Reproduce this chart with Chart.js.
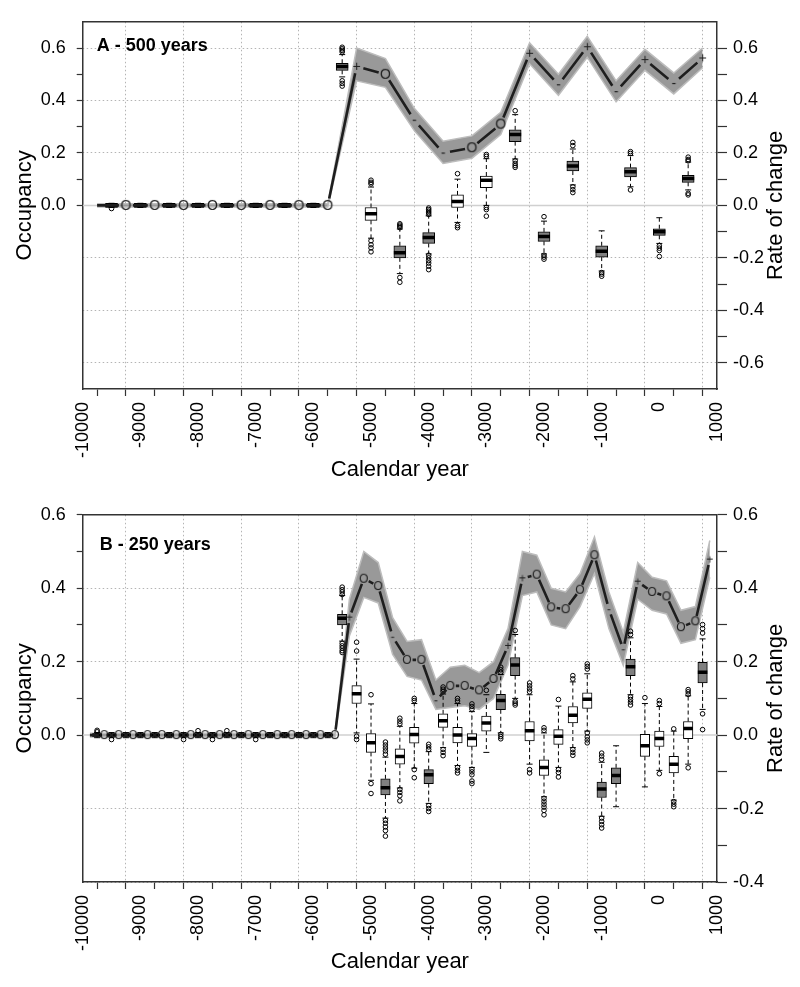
<!DOCTYPE html>
<html><head><meta charset="utf-8">
<script src="https://cdn.jsdelivr.net/npm/chart.js@4/dist/chart.umd.min.js"></script>
<style>
html,body{margin:0;padding:0;background:#fff;}
#wrap{width:800px;height:987px;position:relative;}
canvas{position:absolute;left:0;}
</style></head><body>
<div id="wrap">
<canvas id="cA" width="800" height="493" style="top:0"></canvas>
<canvas id="cB" width="800" height="494" style="top:493px"></canvas>
</div>
<script>
// ---------------- Panel A (500-year bins) ----------------
const occYearsA = [-9750,-9250,-8750,-8250,-7750,-7250,-6750,-6250,-5750,-5250,-4750,-4250,-3750,-3250,-2750,-2250,-1750,-1250,-750,-250,250,750];
const occMedA = [0,0,0,0,0,0,0,0,0,0.53,0.50,0.325,0.20,0.22,0.31,0.58,0.46,0.605,0.434,0.556,0.465,0.562];
const occHiA  = [0.006,0.006,0.006,0.006,0.006,0.006,0.006,0.006,0.006,0.60,0.56,0.37,0.245,0.265,0.355,0.62,0.50,0.645,0.475,0.595,0.505,0.60];
const occLoA  = [-0.006,-0.006,-0.006,-0.006,-0.006,-0.006,-0.006,-0.006,-0.006,0.475,0.45,0.285,0.16,0.18,0.27,0.54,0.42,0.565,0.395,0.515,0.425,0.525];
const symA = ["","O","O","O","O","O","O","O","O","+","O","-","-","O","O","+","-","+","-","+","-","+"];

const boxYearsA = [-9500,-9000,-8500,-8000,-7500,-7000,-6500,-6000,-5500,-5000,-4500,-4000,-3500,-3000,-2500,-2000,-1500,-1000,-500,0,500];
const q1A  = [-0.008,-0.008,-0.008,-0.008,-0.008,-0.008,-0.008,-0.008,0.515,-0.057,-0.2,-0.145,-0.008,0.068,0.243,-0.137,0.131,-0.197,0.109,-0.114,0.088];
const medA = [0,0,0,0,0,0,0,0,0.53,-0.032,-0.181,-0.122,0.015,0.096,0.27,-0.119,0.15,-0.175,0.128,-0.1,0.103];
const q3A  = [0.008,0.008,0.008,0.008,0.008,0.008,0.008,0.008,0.542,-0.008,-0.154,-0.104,0.04,0.112,0.288,-0.101,0.169,-0.154,0.144,-0.089,0.115];
const wLoA = [-0.008,-0.008,-0.008,-0.008,-0.008,-0.008,-0.008,-0.008,0.49,-0.125,-0.26,-0.185,-0.065,0.0,0.177,-0.185,0.078,-0.25,0.071,-0.145,0.059];
const wHiA = [0.008,0.008,0.008,0.008,0.008,0.008,0.008,0.008,0.575,0.07,-0.09,-0.04,0.10,0.178,0.346,-0.06,0.215,-0.097,0.19,-0.047,0.165];
const fillA = [1,1,1,1,1,1,1,1,1,0,1,1,0,0,1,1,1,1,1,1,1];
const outA = [[-0.012],[],[],[],[],[],[],[],
  [0.603,0.597,0.591,0.585,0.475,0.465,0.455],
  [0.096,0.088,0.082,-0.135,-0.15,-0.162,-0.177],
  [-0.07,-0.075,-0.08,-0.085,-0.275,-0.293],
  [-0.01,-0.016,-0.022,-0.028,-0.034,-0.19,-0.2,-0.21,-0.22,-0.232,-0.245],
  [0.121,-0.077,-0.085],
  [0.194,0.187,-0.008,-0.016,-0.041],
  [0.361,0.17,0.16,0.152,0.145],
  [-0.043,-0.19,-0.197,-0.205],
  [0.24,0.228,0.071,0.06,0.049],
  [-0.256,-0.262,-0.27],
  [0.205,0.198,0.059],
  [-0.154,-0.163,-0.172,-0.195],
  [0.184,0.175,0.17,0.046,0.04]];

// ---------------- Panel B (250-year bins) ----------------
const occYearsB = [-9875,-9625,-9375,-9125,-8875,-8625,-8375,-8125,-7875,-7625,-7375,-7125,-6875,-6625,-6375,-6125,-5875,-5625,-5375,-5125,-4875,-4625,-4375,-4125,-3875,-3625,-3375,-3125,-2875,-2625,-2375,-2125,-1875,-1625,-1375,-1125,-875,-625,-375,-125,125,375,625,875];
const occMedB = [0,0,0,0,0,0,0,0,0,0,0,0,0,0,0,0,0,0,0.32,0.426,0.406,0.268,0.205,0.205,0.095,0.134,0.134,0.122,0.153,0.243,0.427,0.437,0.348,0.343,0.396,0.49,0.343,0.234,0.418,0.39,0.378,0.294,0.31,0.478];
const occHiB  = [0.005,0.005,0.005,0.005,0.005,0.005,0.005,0.005,0.005,0.005,0.005,0.005,0.005,0.005,0.005,0.005,0.005,0.005,0.37,0.50,0.47,0.32,0.255,0.26,0.15,0.185,0.19,0.17,0.20,0.29,0.50,0.49,0.40,0.39,0.44,0.54,0.39,0.28,0.47,0.43,0.42,0.34,0.35,0.53];
const occLoB  = [-0.005,-0.005,-0.005,-0.005,-0.005,-0.005,-0.005,-0.005,-0.005,-0.005,-0.005,-0.005,-0.005,-0.005,-0.005,-0.005,-0.005,-0.005,0.27,0.375,0.36,0.22,0.16,0.15,0.07,0.075,0.08,0.07,0.10,0.19,0.38,0.39,0.30,0.29,0.35,0.44,0.29,0.19,0.37,0.34,0.33,0.25,0.26,0.43];
const symB = ["","O","O","O","O","O","O","O","O","O","O","O","O","O","O","O","O","O","+","O","O","-","O","O","-","O","O","O","O","+","+","O","O","O","O","O","-","-","+","O","O","O","O","+"];

const boxYearsB = [-9750,-9500,-9250,-9000,-8750,-8500,-8250,-8000,-7750,-7500,-7250,-7000,-6750,-6500,-6250,-6000,-5750,-5500,-5250,-5000,-4750,-4500,-4250,-4000,-3750,-3500,-3250,-3000,-2750,-2500,-2250,-2000,-1750,-1500,-1250,-1000,-750,-500,-250,0,250,500,750];
const q1B  = [-0.003,-0.003,-0.003,-0.003,-0.003,-0.003,-0.003,-0.003,-0.003,-0.003,-0.003,-0.003,-0.003,-0.003,-0.003,-0.003,-0.003,0.30,0.086,-0.047,-0.163,-0.079,-0.022,-0.132,0.021,-0.021,-0.031,0.011,0.069,0.162,-0.016,-0.11,-0.025,0.033,0.073,-0.17,-0.132,0.162,-0.058,-0.031,-0.103,-0.01,0.142];
const medB = [0,0,0,0,0,0,0,0,0,0,0,0,0,0,0,0,0,0.318,0.113,-0.021,-0.143,-0.058,0.002,-0.108,0.039,0.0,-0.009,0.033,0.094,0.191,0.012,-0.088,-0.003,0.054,0.098,-0.147,-0.11,0.186,-0.029,-0.009,-0.079,0.018,0.171];
const q3B  = [0.003,0.003,0.003,0.003,0.003,0.003,0.003,0.003,0.003,0.003,0.003,0.003,0.003,0.003,0.003,0.003,0.003,0.329,0.135,0.004,-0.119,-0.037,0.021,-0.094,0.058,0.021,0.004,0.052,0.111,0.211,0.037,-0.067,0.015,0.078,0.115,-0.128,-0.089,0.207,0.002,0.011,-0.058,0.037,0.198];
const wLoB = [-0.007,-0.007,-0.007,-0.007,-0.007,-0.007,-0.007,-0.007,-0.007,-0.007,-0.007,-0.007,-0.007,-0.007,-0.007,-0.007,-0.007,0.256,0.006,-0.123,-0.226,-0.144,-0.09,-0.186,-0.034,-0.083,-0.088,-0.047,0.006,0.1,-0.079,-0.168,-0.088,-0.034,0.011,-0.221,-0.195,0.11,-0.141,-0.096,-0.177,-0.079,0.07];
const wHiB = [0.007,0.007,0.007,0.007,0.007,0.007,0.007,0.007,0.007,0.007,0.007,0.007,0.007,0.007,0.007,0.007,0.007,0.38,0.207,0.085,-0.06,0.024,0.086,-0.045,0.112,0.086,0.064,0.11,0.165,0.274,0.11,0.006,0.079,0.145,0.167,-0.074,-0.029,0.265,0.086,0.078,0.011,0.107,0.262];
const fillB = [1,1,1,1,1,1,1,1,1,1,1,1,1,1,1,1,1,1,0,0,1,0,0,1,0,0,0,0,1,1,0,0,0,0,0,1,1,1,0,0,0,0,1];
const outB = [[0.013,0.009],[-0.012],[],[],[],[],[-0.012],[0.012],[-0.012],[0.012],[],[-0.012],[],[],[],[],[],
  [0.403,0.396,0.39,0.383,0.25,0.243,0.237,0.23,0.225],
  [0.253,0.229,-0.003,-0.012],
  [0.11,-0.132,-0.159],
  [-0.019,-0.027,-0.035,-0.043,-0.052,-0.232,-0.24,-0.25,-0.26,-0.275],
  [0.046,0.038,0.031,-0.148,-0.156,-0.165,-0.179],
  [0.1,0.094,-0.094,-0.116],
  [-0.025,-0.032,-0.039,-0.192,-0.2,-0.208],
  [0.131,0.125,0.119,-0.039,-0.047,-0.056],
  [0.1,0.093,-0.088,-0.096,-0.103],
  [0.085,0.078,0.071,-0.093,-0.1,-0.108,-0.125,-0.132],
  [0.122],
  [0.185,0.178,0.171,0.002,-0.004,-0.01],
  [0.285,0.092,0.087,0.082],
  [0.142,0.134,0.126,0.118,-0.094,-0.103],
  [0.02,0.013,-0.172,-0.18,-0.188,-0.196,-0.205,-0.217],
  [0.097,-0.094,-0.102,-0.114],
  [0.162,0.153,-0.039,-0.047,-0.055],
  [0.194,0.187,0.18,0.006,-0.005,-0.013,-0.021],
  [-0.049,-0.057,-0.066,-0.226,-0.235,-0.244,-0.253],
  [],
  [0.283,0.274,0.104,0.097,0.09,0.082],
  [0.102],
  [0.094,0.086,-0.105],
  [0.017,-0.181,-0.188,-0.195],
  [0.124,0.118,0.111,-0.089],
  [0.301,0.29,0.278,0.058,0.015]];

// ---------------- drawing ----------------
const FONT = '"Liberation Sans", Arial, Helvetica, sans-serif';
Chart.defaults.font.family = FONT;
Chart.defaults.color = '#000';

function symCanvas(ch, size) {
  const c = document.createElement('canvas');
  c.width = Math.ceil(size * 1.3); c.height = Math.ceil(size * 1.3);
  const g = c.getContext('2d');
  g.fillStyle = '#1e1e1e';
  g.font = size + 'px ' + FONT;
  g.textAlign = 'center'; g.textBaseline = 'middle';
  g.fillText(ch, c.width / 2, c.height / 2 + size * 0.04);
  return c;
}

const gapLinePlugin = {
  id: 'gapLine',
  afterDatasetsDraw(chart) {
    const ctx = chart.ctx, a = chart.chartArea;
    chart.data.datasets.forEach((ds, di) => {
      if (!ds.gapSymbols) return;
      const pts = chart.getDatasetMeta(di).data;
      ctx.save();
      ctx.beginPath(); ctx.rect(a.left, a.top, a.right - a.left, a.bottom - a.top); ctx.clip();
      ctx.strokeStyle = ds.gapColor; ctx.lineWidth = ds.gapWidth;
      ctx.beginPath();
      for (let i = 0; i < pts.length - 1; i++) {
        const p0 = pts[i], p1 = pts[i + 1];
        const dx = p1.x - p0.x, dy = p1.y - p0.y, L = Math.hypot(dx, dy);
        const g0 = ds.gapSymbols[i] ? ds.gapPx : 0, g1 = ds.gapSymbols[i + 1] ? ds.gapPx : 0;
        if (L <= g0 + g1 + 0.5) continue;
        const ux = dx / L, uy = dy / L;
        ctx.moveTo(p0.x + ux * g0, p0.y + uy * g0);
        ctx.lineTo(p1.x - ux * g1, p1.y - uy * g1);
      }
      ctx.stroke();
      ctx.restore();
    });
  }
};

const panelTextPlugin = {
  id: 'panelText',
  afterDraw(chart, args, o) {
    const ctx = chart.ctx, a = chart.chartArea;
    ctx.save();
    ctx.strokeStyle = '#333'; ctx.lineWidth = 1.5;
    ctx.beginPath(); ctx.moveTo(a.left, a.top); ctx.lineTo(a.right, a.top); ctx.stroke();
    ctx.fillStyle = '#000';
    ctx.font = 'bold 18px ' + FONT;
    ctx.textAlign = 'left'; ctx.textBaseline = 'alphabetic';
    ctx.fillText(o.label, a.left + o.dx, a.top + o.dy);
    ctx.font = '22px ' + FONT;
    ctx.translate(o.rx, (a.top + a.bottom) / 2);
    ctx.rotate(-Math.PI / 2);
    ctx.textAlign = 'center'; ctx.textBaseline = 'middle';
    ctx.fillText(o.rightTitle, 0, 0);
    ctx.restore();
  }
};

function r10(v) { return Math.round(v * 10); }
function fmt(v) { const r = r10(v); return (r % 2 === 0) ? (r / 10).toFixed(1) : ''; }

function makePanel(id, d, s) {
  const syms = {};
  ['O', '+', '-'].forEach(c => syms[c] = symCanvas(c, s.symSize));
  const whisk = [];
  d.boxYears.forEach((x, i) => {
    whisk.push({x, y: d.q3[i]}, {x, y: d.wHi[i]}, {x, y: null}, {x, y: d.q1[i]}, {x, y: d.wLo[i]}, {x, y: null});
  });
  const caps = d.boxYears.flatMap((x, i) => [{x, y: d.wLo[i]}, {x, y: d.wHi[i]}]);
  const outs = d.boxYears.flatMap((x, i) => d.out[i].map(y => ({x, y})));
  const gridCol = '#b4b4b4';
  const tickCol = '#333';
  const datasets = [
    {type: 'line', data: [{x: -10000, y: 0}, {x: 1000, y: 0}], borderColor: '#d0d0d0', borderWidth: 1.5, pointRadius: 0, order: 30},
    {type: 'line', data: d.occYears.map((x, i) => ({x, y: d.occHi[i]})), borderColor: '#bdbdbd', borderWidth: 1.5, backgroundColor: '#999999', fill: '+1', pointRadius: 0, order: 20},
    {type: 'line', data: d.occYears.map((x, i) => ({x, y: d.occLo[i]})), borderColor: '#bdbdbd', borderWidth: 1.5, pointRadius: 0, fill: false, order: 19},
    {type: 'line', data: whisk, borderColor: '#000', borderWidth: 1, borderDash: [4, 3], pointRadius: 0, spanGaps: false, fill: false, order: 8},
    {type: 'bar', data: d.boxYears.map((x, i) => ({x, y: [d.q1[i], d.q3[i]]})), backgroundColor: d.fill.map(f => f ? '#808080' : '#ffffff'), borderColor: '#000', borderWidth: 1, borderSkipped: false, barThickness: s.boxW, order: 7},
    {type: 'scatter', data: caps, pointStyle: 'line', pointRadius: 3, pointBorderWidth: 1, pointBorderColor: '#000', order: 6},
    {type: 'scatter', data: d.boxYears.map((x, i) => ({x, y: d.med[i]})), pointStyle: 'line', pointRadius: s.boxW / 2, pointBorderWidth: 3.5, pointBorderColor: '#000', order: 5},
    {type: 'scatter', data: outs, pointStyle: 'circle', pointRadius: 2.3, pointBorderWidth: 1, pointBorderColor: '#000', pointBackgroundColor: 'rgba(0,0,0,0)', order: 4},
    {type: 'line', data: d.occYears.map((x, i) => ({x, y: d.occMed[i]})), showLine: false,
      pointStyle: c => syms[d.sym[c.dataIndex]] || 'circle',
      pointRadius: c => d.sym[c.dataIndex] ? 5 : 0,
      gapSymbols: d.sym, gapPx: s.gap, gapColor: '#1e1e1e', gapWidth: 2.6, order: 1}
  ];
  return new Chart(document.getElementById(id), {
    type: 'line',
    data: {datasets},
    options: {
      responsive: false, animation: false, events: [],
      layout: {padding: {top: 14, left: 0, right: 0, bottom: 0}},
      plugins: {legend: {display: false}, tooltip: {enabled: false},
        panelText: {label: s.label, dx: s.ldx, dy: s.ldy, rx: 776, rightTitle: 'Rate of change'}},
      scales: {
        x: {type: 'linear', min: -10000, max: 1000, offset: false,
          ticks: {stepSize: 500, autoSkip: false, maxRotation: 90, minRotation: 90, padding: 6, color: '#000',
            font: {size: 18}, callback: v => (v % 1000 === 0) ? String(v) : ''},
          grid: {color: c => (c.tick && c.tick.value % 1000 === 0) ? gridCol : 'rgba(0,0,0,0)', lineWidth: 1,
            drawTicks: true, tickLength: 7, tickColor: tickCol, tickWidth: 1.2},
          border: {display: true, color: '#333', width: 1.5, dash: [1.5, 2.5]},
          title: {display: true, text: 'Calendar year', font: {size: 22}, color: '#000', padding: {top: 0, bottom: s.xTitlePad}},
          afterFit: sc => { sc.height = s.H - 389; }
        },
        y: {type: 'linear', position: 'left', min: s.yMin, max: s.yMax,
          ticks: {stepSize: 0.1, autoSkip: false, padding: 11, color: '#000', font: {size: 18},
            callback: v => (r10(v) < 0 || r10(v) > 6) ? '' : fmt(v)},
          grid: {drawOnChartArea: false, drawTicks: true, tickLength: 6, tickWidth: 1.2,
            tickColor: c => (c.tick && (r10(c.tick.value) < 0 || r10(c.tick.value) > 6)) ? 'rgba(0,0,0,0)' : tickCol},
          border: {display: true, color: '#333', width: 1.5},
          title: {display: true, text: 'Occupancy', font: {size: 22}, color: '#000', padding: {top: 12, bottom: 0}},
          afterFit: sc => { sc.width = 82.7; }
        },
        y2: {type: 'linear', position: 'right', min: s.yMin, max: s.yMax,
          ticks: {stepSize: 0.1, autoSkip: false, padding: 6, color: '#000', font: {size: 18},
            callback: v => Math.abs(r10(v)) > 6 ? '' : fmt(v)},
          grid: {drawOnChartArea: true, drawTicks: true, tickLength: 10, tickWidth: 1.2, lineWidth: 1,
            color: c => (c.tick && r10(c.tick.value) % 2 === 0 && r10(c.tick.value) !== 0 && Math.abs(r10(c.tick.value)) <= 6) ? gridCol : 'rgba(0,0,0,0)',
            tickColor: c => (c.tick && Math.abs(r10(c.tick.value)) > 6) ? 'rgba(0,0,0,0)' : tickCol},
          border: {display: true, color: '#333', width: 1.5, dash: [1.5, 2.5]},
          afterFit: sc => { sc.width = 800 - 717; }
        }
      }
    },
    plugins: [panelTextPlugin, gapLinePlugin]
  });
}

makePanel('cA',
  {occYears: occYearsA, occMed: occMedA, occHi: occHiA, occLo: occLoA, sym: symA,
   boxYears: boxYearsA, q1: q1A, med: medA, q3: q3A, wLo: wLoA, wHi: wHiA, fill: fillA, out: outA},
  {H: 493, yMin: -0.7, yMax: 0.7, boxW: 12, symSize: 14, gap: 7, label: 'A - 500 years', ldx: 14, ldy: 29, xTitlePad: 10});

makePanel('cB',
  {occYears: occYearsB, occMed: occMedB, occHi: occHiB, occLo: occLoB, sym: symB,
   boxYears: boxYearsB, q1: q1B, med: medB, q3: q3B, wLo: wLoB, wHi: wHiB, fill: fillB, out: outB},
  {H: 494, yMin: -0.4, yMax: 0.6, boxW: 9.5, symSize: 12, gap: 5.5, label: 'B - 250 years', ldx: 17, ldy: 35, xTitlePad: 12});
</script>
</body></html>
